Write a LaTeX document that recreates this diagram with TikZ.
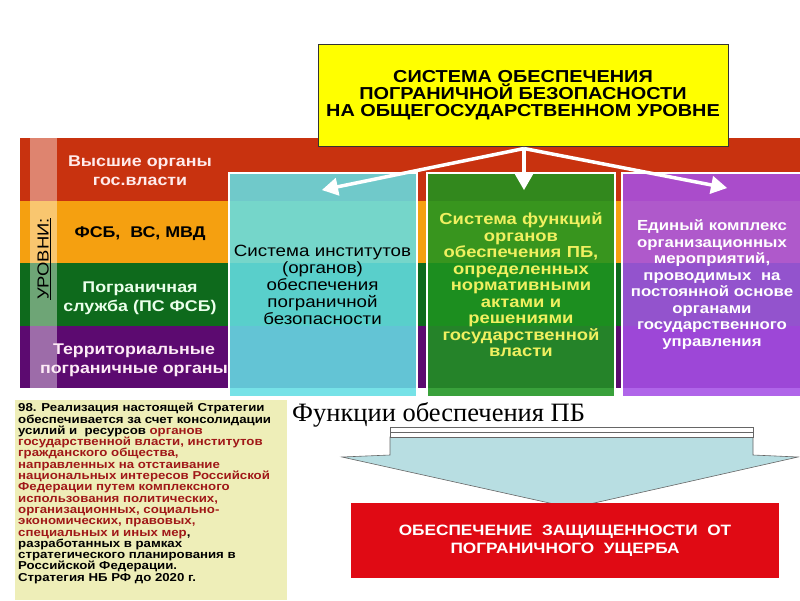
\documentclass[tikz,border=0pt]{standalone}
\usepackage{fontspec}
\setmainfont[FakeStretch=1.15]{Liberation Sans}
\newfontfamily\serifru{Liberation Serif}
\usetikzlibrary{arrows,positioning,shapes,calc}
\definecolor{bandred}{RGB}{200,50,15}
\definecolor{bandorange}{RGB}{245,160,16}
\definecolor{bandgreen}{RGB}{14,106,28}
\definecolor{bandpurple}{RGB}{92,10,112}
\definecolor{titleyellow}{RGB}{255,255,0}
\definecolor{instcyan}{RGB}{100,222,228}
\definecolor{funcgreen}{RGB}{30,148,32}
\definecolor{funcyellow}{RGB}{240,240,96}
\definecolor{complexpurple}{RGB}{166,80,230}
\definecolor{noteyellow}{RGB}{238,238,184}
\definecolor{notered}{RGB}{160,24,24}
\definecolor{arrowblue}{RGB}{184,222,226}
\definecolor{goalred}{RGB}{224,10,20}
\tikzstyle{band} = [rectangle, inner sep=0pt, outer sep=0pt,
	minimum width=780pt, minimum height=62.5pt]
\tikzstyle{band label} = [font=\bfseries\fontsize{15.5}{19}\selectfont, align=center]
\tikzstyle{column} = [rectangle, draw=white, line width=2pt,
	minimum width=188pt, minimum height=224pt, inner sep=2pt,
	align=center, fill opacity=0.88, text opacity=1]
\tikzstyle{title} = [rectangle, draw=black!80, line width=1pt, fill=titleyellow,
	minimum width=410pt, minimum height=102pt, align=center,
	font=\bfseries\fontsize{17.3}{17}\selectfont]
\tikzstyle{goal} = [rectangle, fill=goalred, text=white,
	minimum width=428pt, minimum height=75pt, align=center,
	font=\bfseries\fontsize{15}{18}\selectfont]
\tikzstyle{link} = [>=triangle 60, ->, draw=white, line width=3.5pt]

\begin{document}
\begin{tikzpicture}[x=1pt, y=-1pt]
	\useasboundingbox (0,0) rectangle (800,600);
	\fill[white] (0,0) rectangle (800,600);

	% levels
	\node[band, fill=bandred, anchor=north west] (high) at (20,138) {};
	\node[band, fill=bandorange] (fsb) [below=0pt of high] {};
	\node[band, fill=bandgreen] (border) [below=0pt of fsb] {};
	\node[band, fill=bandpurple] (terr) [below=0pt of border] {};
	\fill[white, opacity=0.4] (30,138) rectangle (57,388);
	\node[rotate=90, font=\fontsize{16}{16}\selectfont] (levels) at (44,259) {\underline{УРОВНИ:}};
	\node[band label, text=white!92!red] (highlbl) at (140,171) {Высшие органы\\гос.власти};
	\node[band label, text=black] (fsblbl) at (140,234) {ФСБ,~ ВС, МВД};
	\node[band label, text=green!8!white] (borderlbl) at (140,298) {Пограничная\\служба (ПС ФСБ)};
	\node[band label, text=white!92!magenta] (terrlbl) at (134,360) {Территориальные\\пограничные органы};

	\node[title] (system) at (523,95) {СИСТЕМА ОБЕСПЕЧЕНИЯ\\ПОГРАНИЧНОЙ БЕЗОПАСНОСТИ\\НА ОБЩЕГОСУДАРСТВЕННОМ УРОВНЕ};

	\node[column, fill=instcyan, text width=184pt, font=\fontsize{16.3}{17}\selectfont] (inst) at (322.5,284.5)
		{Система институтов\\(органов)\\обеспечения\\пограничной\\безопасности};
	\node[column, fill=funcgreen, text=funcyellow, text width=184pt, font=\bfseries\fontsize{16}{16.5}\selectfont] (func) at (521,285)
		{Система функций\\органов\\обеспечения ПБ,\\определенных\\нормативными\\актами и\\решениями\\государственной\\власти};
	\node[column, fill=complexpurple, text=white, minimum width=178pt, text width=176pt, font=\bfseries\fontsize{14.6}{16.5}\selectfont] (complex) at (712,284.5)
		{Единый комплекс\\организационных\\мероприятий,\\проводимых~ на\\постоянной основе\\органами\\государственного\\управления};

	\coordinate (hub) at ($(system.south)+(1,2)$);
	\coordinate (instend) at (322,190);
	\coordinate (funcend) at (524,190);
	\coordinate (complexend) at (727,188);
	\draw[link] (hub) -- (instend);
	\draw[link] (hub) -- (funcend);
	\draw[link] (hub) -- (complexend);

	\fill[noteyellow] (15,400) rectangle (287,600);
	\node[anchor=north west, align=left, inner sep=0pt, font=\bfseries\fontsize{11.5}{11.3}\selectfont] (strategy) at (18,403)
		{98. Реализация настоящей Стратегии\\
		обеспечивается за счет консолидации\\
		усилий и~ ресурсов \color{notered}органов\\
		\color{notered}государственной власти, институтов\\
		\color{notered}гражданского общества,\\
		\color{notered}направленных на отстаивание\\
		\color{notered}национальных интересов Российской\\
		\color{notered}Федерации путем комплексного\\
		\color{notered}использования политических,\\
		\color{notered}организационных, социально-\\
		\color{notered}экономических, правовых,\\
		\color{notered}специальных и иных мер\color{black},\\
		разработанных в рамках\\
		стратегического планирования в\\
		Российской Федерации.\\
		Стратегия НБ РФ до 2020 г.};

	\node[anchor=west, inner sep=0pt, font=\serifru\fontsize{26.5}{26}\selectfont] (funcs) at (292,415) {Функции обеспечения ПБ};

	\draw[fill=arrowblue, draw=black!60, line width=0.6pt]
		(390,437) -- (753,437) -- (753,455) -- (798,457) -- (572,508)
		-- (342,457) -- (390,455) -- cycle;
	\draw[fill=white, draw=black!60, line width=0.6pt] (390,427) rectangle (753,437);
	\draw[draw=black!60, line width=0.6pt] (390,432) -- (753,432);

	\node[goal] (goal) at (565,540.5) {ОБЕСПЕЧЕНИЕ~ ЗАЩИЩЕННОСТИ~ ОТ\\ПОГРАНИЧНОГО~ УЩЕРБА};
\end{tikzpicture}
\end{document}
